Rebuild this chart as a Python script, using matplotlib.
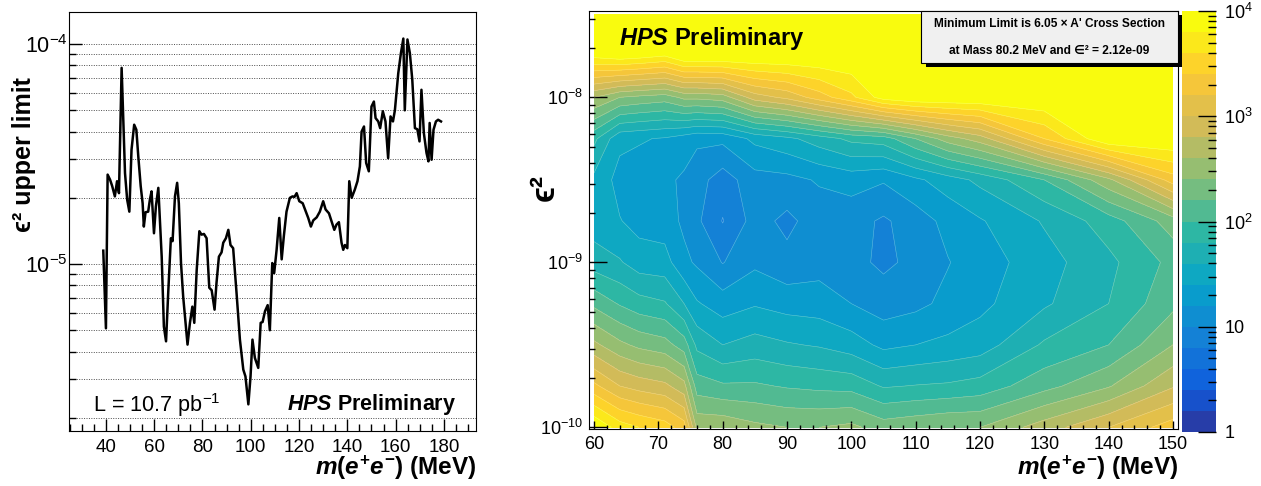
import numpy as np
import matplotlib
matplotlib.use("Agg")
import matplotlib.pyplot as plt
from matplotlib.colors import LinearSegmentedColormap, ListedColormap
from matplotlib.ticker import MultipleLocator, LogLocator, NullFormatter, FixedLocator
from matplotlib.patches import Rectangle

plt.rcParams["font.family"] = ["Liberation Sans", "DejaVu Sans"]
plt.rcParams["mathtext.fontset"] = "custom"
plt.rcParams["mathtext.rm"] = "Liberation Sans"
plt.rcParams["mathtext.it"] = "Liberation Sans:italic:bold"
plt.rcParams["mathtext.bf"] = "Liberation Sans:bold"

# ---- left panel: epsilon^2 upper limit vs mass
mass = [38.9, 40.0, 40.7, 41.7, 42.6, 43.7, 44.6, 45.4, 46.5, 47.9,
        48.8, 49.7, 50.6, 51.7, 52.6, 53.4, 54.4, 55.2, 55.7, 56.4,
        57.5, 58.2, 58.9, 59.9, 60.7, 61.7, 63.1, 64.0, 64.9, 65.8,
        66.9, 67.6, 68.6, 69.5, 70.2, 71.1, 72.0, 73.0, 73.8, 74.8,
        75.8, 76.6, 77.6, 78.7, 79.6, 80.6, 81.7, 82.8, 83.8, 85.0,
        85.8, 86.8, 87.9, 88.6, 89.7, 90.7, 91.6, 92.7, 94.1, 95.5,
        96.9, 97.8, 99.0, 99.9, 100.7, 101.7, 103.1, 104.1, 104.9, 105.9,
        107.0, 107.9, 108.9, 109.7, 110.7, 111.8, 112.8, 113.7, 114.8, 116.2,
        117.3, 118.1, 119.0, 120.1, 121.5, 122.8, 123.8, 124.9, 125.9, 127.3,
        128.6, 130.0, 131.0, 132.4, 133.5, 134.6, 135.5, 136.5, 137.6, 138.3,
        139.0, 140.0, 140.8, 141.8, 143.1, 144.2, 145.2, 145.9, 146.9, 147.8,
        148.9, 150.0, 151.0, 151.7, 152.8, 153.6, 154.7, 155.8, 156.9, 157.9,
        158.9, 159.7, 161.1, 162.2, 163.2, 163.8, 164.9, 165.9, 166.9, 168.0,
        169.0, 169.9, 170.7, 171.7, 172.8, 173.6, 174.1, 174.9, 175.7, 176.7,
        177.6, 178.8]
eps2_limit = [1.15e-5, 5.1e-6, 2.55e-5, 2.42e-5, 2.26e-5, 2.03e-5, 2.38e-5, 2.10e-5, 7.8e-5, 2.59e-5,
              1.96e-5, 1.73e-5, 3.31e-5, 4.30e-5, 4.08e-5, 3.09e-5, 2.26e-5, 1.89e-5, 1.48e-5, 1.72e-5,
              1.73e-5, 1.96e-5, 2.14e-5, 1.38e-5, 1.83e-5, 2.22e-5, 1.08e-5, 5.2e-6, 4.45e-6, 7.4e-6,
              1.31e-5, 1.27e-5, 2.03e-5, 2.34e-5, 1.89e-5, 1.01e-5, 7.1e-6, 5.4e-6, 4.3e-6, 5.4e-6,
              6.4e-6, 5.4e-6, 9.4e-6, 1.41e-5, 1.36e-5, 1.37e-5, 1.31e-5, 7.8e-6, 7.6e-6, 6.2e-6,
              8.2e-6, 1.08e-5, 1.13e-5, 1.25e-5, 1.31e-5, 1.43e-5, 1.22e-5, 1.18e-5, 7.4e-6, 4.53e-6,
              3.31e-6, 3.08e-6, 2.30e-6, 3.08e-6, 4.53e-6, 3.74e-6, 3.37e-6, 5.4e-6, 5.45e-6, 6.1e-6,
              6.5e-6, 5.0e-6, 1.01e-5, 9.1e-6, 1.16e-5, 1.62e-5, 1.05e-5, 1.34e-5, 1.73e-5, 2.0e-5,
              2.03e-5, 2.02e-5, 2.10e-5, 1.93e-5, 1.89e-5, 1.73e-5, 1.62e-5, 1.48e-5, 1.58e-5, 1.63e-5,
              1.73e-5, 1.93e-5, 1.77e-5, 1.70e-5, 1.56e-5, 1.43e-5, 1.51e-5, 1.55e-5, 1.25e-5, 1.16e-5,
              1.22e-5, 1.18e-5, 2.38e-5, 2.0e-5, 2.18e-5, 2.38e-5, 2.78e-5, 4.0e-5, 4.22e-5, 2.88e-5,
              2.64e-5, 5.2e-5, 5.48e-5, 4.61e-5, 4.45e-5, 4.15e-5, 4.95e-5, 4.45e-5, 3.03e-5, 4.69e-5,
              4.45e-5, 5.0e-5, 7.38e-5, 9.1e-5, 1.06e-4, 5.0e-5, 1.05e-4, 9.1e-5, 6.9e-5, 4.15e-5,
              4.1e-5, 3.61e-5, 6.2e-5, 3.94e-5, 3.2e-5, 2.93e-5, 4.38e-5, 2.98e-5, 4.08e-5, 4.45e-5,
              4.53e-5, 4.45e-5]

# ---- right panel: limit / A' cross section on a (mass, eps^2) grid
grid_mass = [60, 64, 67, 71, 74, 76, 80, 85, 90, 95, 100, 105, 110, 115, 120, 130, 140, 150]
grid_eps2 = [1e-10, 1.78e-10, 3.16e-10, 5.62e-10, 1e-9, 1.78e-9, 3.16e-9, 5.62e-9, 1e-8, 1.78e-8, 3.16e-8]
# log10(limit / cross section), one list per mass, eps2 ascending
log10_ratio = [
    [4.05, 3.25, 2.65, 2.15, 1.70, 1.50, 1.55, 1.85, 2.60, 3.85, 5.0],
    [3.70, 3.00, 2.45, 1.98, 1.62, 1.41, 1.33, 1.45, 2.40, 3.92, 5.3],
    [3.60, 2.92, 2.35, 1.88, 1.50, 1.33, 1.30, 1.42, 2.35, 3.88, 5.3],
    [3.50, 2.85, 2.28, 1.82, 1.48, 1.30, 1.24, 1.38, 2.30, 3.80, 5.2],
    [3.30, 2.67, 2.10, 1.60, 1.25, 1.16, 1.17, 1.30, 2.45, 4.10, 5.7],
    [2.55, 2.10, 1.75, 1.42, 1.17, 1.04, 1.08, 1.24, 2.45, 4.20, 5.9],
    [2.55, 2.03, 1.60, 1.30, 0.99, 0.79, 0.90, 1.25, 2.50, 4.30, 6.0],
    [2.45, 2.03, 1.68, 1.38, 1.16, 1.08, 1.12, 1.45, 2.90, 4.80, 6.3],
    [2.40, 1.98, 1.62, 1.32, 1.06, 0.95, 1.14, 1.55, 3.05, 5.00, 6.5],
    [2.40, 1.95, 1.58, 1.30, 1.12, 1.10, 1.22, 1.70, 3.30, 5.20, 6.7],
    [2.45, 1.93, 1.50, 1.20, 1.06, 1.08, 1.28, 1.85, 3.55, 5.40, 6.9],
    [2.30, 1.78, 1.35, 1.10, 0.96, 0.97, 1.22, 1.90, 3.90, 5.80, 7.2],
    [2.35, 1.81, 1.40, 1.15, 1.05, 1.10, 1.36, 2.20, 4.20, 6.00, 7.5],
    [2.40, 1.83, 1.45, 1.25, 1.19, 1.26, 1.50, 2.50, 4.50, 6.30, 7.8],
    [2.40, 1.88, 1.50, 1.35, 1.30, 1.38, 1.65, 2.70, 4.80, 6.60, 8.0],
    [2.70, 2.13, 1.83, 1.57, 1.52, 1.62, 2.00, 3.40, 5.80, 7.50, 9.0],
    [3.00, 2.38, 2.00, 1.80, 1.75, 1.90, 2.55, 4.20, 6.30, 8.00, 9.5],
    [3.30, 2.78, 2.40, 2.15, 2.06, 2.30, 3.30, 5.20, 7.00, 8.50, 10.0],
]
cbar_ticks = [1, 10, 100, 1000, 10000]
cbar_labels = ["1", "10", "$10^{2}$", "$10^{3}$", "$10^{4}$"]

# ROOT kBird palette
bird_stops = [0.0, 0.125, 0.25, 0.375, 0.5, 0.625, 0.75, 0.875, 1.0]
bird_r = [0.2082, 0.0592, 0.0780, 0.0232, 0.1802, 0.5301, 0.8186, 0.9956, 0.9764]
bird_g = [0.1664, 0.3599, 0.5041, 0.6419, 0.7178, 0.7492, 0.7328, 0.7862, 0.9832]
bird_b = [0.5293, 0.8684, 0.8385, 0.7914, 0.6425, 0.4662, 0.3499, 0.1968, 0.0539]
bird = LinearSegmentedColormap.from_list("bird", list(zip(bird_stops, zip(bird_r, bird_g, bird_b))))

W, H = 1261, 486


def box(x0, y0, x1, y1):
    # pixel box (top-left origin) -> figure fraction rect
    return [x0 / W, 1 - y1 / H, (x1 - x0) / W, (y1 - y0) / H]


def ftxt(x, y, s, **kw):
    return fig.text(x / W, 1 - y / H, s, **kw)


fig = plt.figure(figsize=(W / 100, H / 100), dpi=100)

# ----------------- left
ax1 = fig.add_axes(box(69, 12, 476, 431))
ax1.plot(mass, eps2_limit, color="black", lw=1.8, zorder=3)
ax1.set_yscale("log")
ax1.set_xlim(24.7, 193.3)
ax1.set_ylim(1.74e-6, 1.40e-4)
ax1.xaxis.set_major_locator(MultipleLocator(20))
ax1.xaxis.set_minor_locator(MultipleLocator(5))
ax1.yaxis.set_major_locator(LogLocator(base=10))
ax1.yaxis.set_minor_locator(LogLocator(base=10, subs=range(2, 10)))
ax1.yaxis.set_minor_formatter(NullFormatter())
ax1.grid(axis="y", which="both", color="0.3", lw=0.7, linestyle=(0, (1, 1.5)))
ax1.tick_params(which="both", direction="in", top=False, right=False, width=1)
ax1.tick_params(which="major", length=9)
ax1.tick_params(which="minor", length=5)
ax1.tick_params(axis="x", labelsize=13.5, pad=6)
ax1.tick_params(axis="y", labelsize=15.5, pad=1)

ftxt(93, 412, "L = 10.7 pb$^{-1}$", fontsize=15.6, va="baseline")
ftxt(287, 410, r"$\mathit{HPS}$ Preliminary", fontsize=15.5, fontweight="bold", va="baseline")
xlab = r"$m$($e^{\mathbf{+}}e^{\mathbf{-}}$) (MeV)"
ftxt(476, 475, xlab, fontsize=17.5, fontweight="bold", ha="right", va="baseline")
ftxt(24, 155, "ϵ² upper limit", fontsize=18, fontweight="bold", rotation=90, ha="center", va="center")

# ----------------- right
ax2 = fig.add_axes(box(589, 11, 1178, 429))
Z = np.clip(np.array(log10_ratio).T, 0, 3.999)
lv = np.log10(grid_eps2)
levels = np.linspace(0, 4, 21)
cmap = ListedColormap(bird(np.linspace(0.05, 1, 20)))
cs = ax2.contourf(grid_mass, lv, Z, levels=levels, cmap=cmap)
ax2.contour(grid_mass, lv, Z, levels=levels, colors="white", linewidths=0.4, alpha=0.35)
ax2.set_xlim(59.22, 150.78)
ax2.set_ylim(-10.01, -7.477)
ax2.xaxis.set_major_locator(MultipleLocator(10))
ax2.xaxis.set_minor_locator(MultipleLocator(2))
ax2.set_yticks([-10, -9, -8])
ax2.set_yticklabels(["$10^{-10}$", "$10^{-9}$", "$10^{-8}$"])
ax2.yaxis.set_minor_locator(FixedLocator(
    [np.log10(k) + n for n in (-10, -9, -8) for k in range(2, 10) if np.log10(k) + n < -7.477]))
ax2.tick_params(which="both", direction="in", top=False, right=False, width=1)
ax2.tick_params(axis="x", which="major", length=6, labelsize=13, pad=5)
ax2.tick_params(axis="x", which="minor", length=3)
ax2.tick_params(axis="y", which="major", length=13, labelsize=13, pad=4)
ax2.tick_params(axis="y", which="minor", length=4.5)

ftxt(619, 45, r"$\mathit{HPS}$ Preliminary", fontsize=17, fontweight="bold", va="baseline")
ftxt(1178, 475, xlab, fontsize=17.5, fontweight="bold", ha="right", va="baseline")
ftxt(545, 187, "ϵ²", fontsize=24, fontweight="bold", rotation=90, ha="center", va="center")

# info box with shadow
fig.patches.append(Rectangle((926 / W, 1 - 67 / H), 256 / W, 52 / H, transform=fig.transFigure,
                             facecolor="black", edgecolor="none", zorder=5))
fig.patches.append(Rectangle((921 / W, 1 - 63 / H), 257 / W, 52 / H, transform=fig.transFigure,
                             facecolor="#f0f0f0", edgecolor="black", lw=0.8, zorder=6))
ftxt(1049, 24, "Minimum Limit is 6.05 × A' Cross Section", fontsize=8.6, fontweight="bold",
     ha="center", va="center", zorder=7)
ftxt(1049, 51, "at Mass 80.2 MeV and ∈² = 2.12e-09", fontsize=8.6, fontweight="bold",
     ha="center", va="center", zorder=7)

# colour bar
cax = fig.add_axes(box(1182, 11, 1216, 432))
cb = fig.colorbar(cs, cax=cax)
cb.outline.set_visible(False)
cb.set_ticks(np.log10(cbar_ticks))
cb.set_ticklabels(cbar_labels)
cax.yaxis.set_minor_locator(FixedLocator(
    [np.log10(k) + n for n in range(4) for k in range(2, 10)]))
cax.tick_params(which="both", direction="in", right=True, left=False, width=1)
cax.tick_params(which="major", length=13, labelsize=13, pad=6)
cax.tick_params(which="minor", length=6)

fig.savefig("out.png", dpi=100)
